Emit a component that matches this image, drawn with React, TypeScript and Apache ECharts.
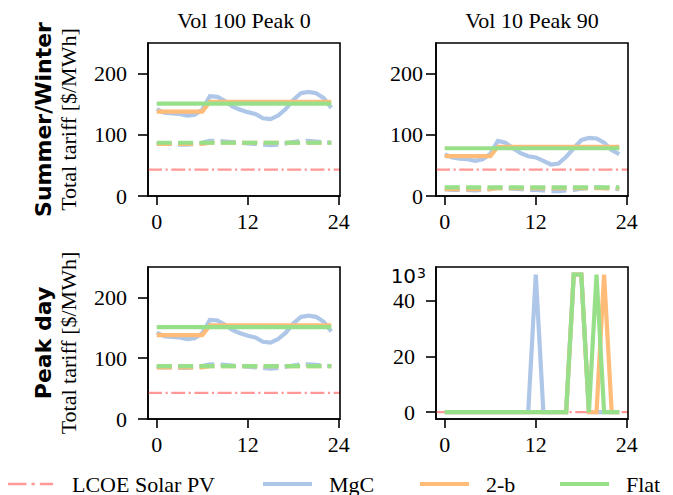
import React, { useEffect, useRef } from "react";
import * as echarts from "echarts";

// ---------- data ----------
const hours = [0, 1, 2, 3, 4, 5, 6, 7, 8, 9, 10, 11, 12, 13, 14, 15, 16, 17, 18, 19, 20, 21, 22, 23];
const xTicks = [0, 12, 24];
const yTicks = [0, 100, 200];
const colTitles = ["Vol 100 Peak 0", "Vol 10 Peak 90"];
const rowTitles = ["Summer/Winter", "Peak day"];
const seriesNames = ["LCOE Solar PV", "MgC", "2-b", "Flat"];

// Summer/Winter, Vol 100 Peak 0 (solid = summer, dashed = winter)
const swA_mgc = [142, 136, 135, 134, 131.5, 133, 141, 163, 162, 155, 146, 141, 137, 134, 127, 125.5, 131.5, 142, 157, 168, 170, 168, 160, 144];
const swA_2b = [138, 138, 138, 138, 138, 138, 138, 154, 154, 154, 154, 154, 154, 154, 154, 154, 154, 154, 154, 154, 154, 154, 154, 154];
const swA_flat = [151, 151, 151, 151, 151, 151, 151, 151, 151, 151, 151, 151, 151, 151, 151, 151, 151, 151, 151, 151, 151, 151, 151, 151];
const swA_mgcW = [85, 85, 85, 84, 84, 85, 87, 90, 90, 89, 88, 87, 86, 85, 84, 83, 84, 86, 88, 90, 90, 89, 88, 87];
const swA_2bW = [85, 85, 85, 85, 85, 85, 85, 87, 87, 87, 87, 87, 87, 87, 87, 87, 87, 87, 87, 87, 87, 87, 87, 87];
const swA_flatW = [87, 87, 87, 87, 87, 87, 87, 87, 87, 87, 87, 87, 87, 87, 87, 87, 87, 87, 87, 87, 87, 87, 87, 87];
const swA_lcoe = 43;

// Summer/Winter, Vol 10 Peak 90
const swB_mgc = [68, 63, 61, 60, 57.5, 60, 68.5, 90, 87, 78, 70, 65, 63, 57.5, 51.5, 53, 64, 78, 91.5, 95, 94, 87, 75, 68.5];
const swB_2b = [65, 65, 65, 65, 65, 65, 65, 80.5, 80.5, 80.5, 80.5, 80.5, 80.5, 80.5, 80.5, 80.5, 80.5, 80.5, 80.5, 80.5, 80.5, 80.5, 80.5, 80.5];
const swB_flat = [78, 78, 78, 78, 78, 78, 78, 78, 78, 78, 78, 78, 78, 78, 78, 78, 78, 78, 78, 78, 78, 78, 78, 78];
const swB_mgcW = [11, 10, 10, 10, 9, 10, 11, 13, 13, 12, 11, 10, 10, 9, 8, 8, 9, 10, 12, 13, 14, 13, 12, 11];
const swB_2bW = [11, 11, 11, 11, 11, 11, 11, 13, 13, 13, 13, 13, 13, 13, 13, 13, 13, 13, 13, 13, 13, 13, 13, 13];
const swB_flatW = [14, 14, 14, 14, 14, 14, 14, 14, 14, 14, 14, 14, 14, 14, 14, 14, 14, 14, 14, 14, 14, 14, 14, 14];
const swB_lcoe = 43;

// Peak day, Vol 100 Peak 0
const pdA_mgc = [142, 136, 135, 134, 131.5, 133, 141, 163, 162, 155, 146, 141, 137, 134, 127, 125.5, 131.5, 142, 157, 168, 170, 168, 160, 144];
const pdA_2b = [138, 138, 138, 138, 138, 138, 138, 154, 154, 154, 154, 154, 154, 154, 154, 154, 154, 154, 154, 154, 154, 154, 154, 154];
const pdA_flat = [151, 151, 151, 151, 151, 151, 151, 151, 151, 151, 151, 151, 151, 151, 151, 151, 151, 151, 151, 151, 151, 151, 151, 151];
const pdA_mgcW = [85, 85, 85, 84, 84, 85, 87, 90, 90, 89, 88, 87, 86, 85, 84, 83, 84, 86, 88, 90, 90, 89, 88, 87];
const pdA_2bW = [85, 85, 85, 85, 85, 85, 85, 87, 87, 87, 87, 87, 87, 87, 87, 87, 87, 87, 87, 87, 87, 87, 87, 87];
const pdA_flatW = [87, 87, 87, 87, 87, 87, 87, 87, 87, 87, 87, 87, 87, 87, 87, 87, 87, 87, 87, 87, 87, 87, 87, 87];
const pdA_lcoe = 43;

// Peak day, Vol 10 Peak 90 (symlog-like axis)
const pdB_mgc = [0, 0, 0, 0, 0, 0, 0, 0, 0, 0, 0, 0, 1000, 0, 0, 0, 0, 1000, 1000, 0, 0, 0, 0, 0];
const pdB_2b = [0, 0, 0, 0, 0, 0, 0, 0, 0, 0, 0, 0, 0, 0, 0, 0, 0, 1000, 1000, 0, 0, 1000, 0, 0];
const pdB_flat = [0, 0, 0, 0, 0, 0, 0, 0, 0, 0, 0, 0, 0, 0, 0, 0, 0, 1000, 1000, 0, 1000, 0, 0, 0];
const pdB_lcoe = 0;
const pdB_ticks = [0, 20, 40];
const pdB_logTick = 1000;

// ---------- styling ----------
const COLORS = { lcoe: "#ff9896", mgc: "#aec7e8", twob: "#ffbb78", flat: "#98df8a" };
const SERIF = "Liberation Serif";
const SANS = "DejaVu Sans";
const FS = 22;
const X_MIN = -1.15;
const X_MAX = 24.15;
const LW = 4.2;
const DASH = [15, 6.4];
const DASHDOT = [14, 3.5, 2.2, 3.5];
const Y_LABEL_MARGINS = [21, 13, 21, 9];

// symlog-like transform for the bottom-right panel
const LIN = 40;
const symT = (v: number) => (v <= LIN ? v : LIN + (9.5 * Math.log10(v / LIN)) / Math.log10(1000 / LIN));

const grids = [
  { left: 148, top: 43, width: 192, height: 153 },
  { left: 436, top: 43, width: 192, height: 153 },
  { left: 148, top: 267, width: 192, height: 152 },
  { left: 436, top: 267, width: 192, height: 152 },
];

const panels = [
  { mgc: swA_mgc, twob: swA_2b, flat: swA_flat, mgcW: swA_mgcW, twobW: swA_2bW, flatW: swA_flatW, lcoe: swA_lcoe },
  { mgc: swB_mgc, twob: swB_2b, flat: swB_flat, mgcW: swB_mgcW, twobW: swB_2bW, flatW: swB_flatW, lcoe: swB_lcoe },
  { mgc: pdA_mgc, twob: pdA_2b, flat: pdA_flat, mgcW: pdA_mgcW, twobW: pdA_2bW, flatW: pdA_flatW, lcoe: pdA_lcoe },
  { mgc: pdB_mgc, twob: pdB_2b, flat: pdB_flat, mgcW: null, twobW: null, flatW: null, lcoe: pdB_lcoe },
];

// legend icon paths drawn at their own pixel size
const ICON_SOLID = "path://M0,0H49V4.2H0Z";
const ICON_DASHDOT = "path://M0,0H18.5V2.4H0Z M23.5,0H26.8V2.4H23.5Z M31.8,0H45V2.4H31.8Z";

const numRich = { n: { fontFamily: SERIF, fontSize: FS, color: "#000" } };

function buildOption() {
  const axisLineStyle = { color: "#000", width: 1.6 };
  const xAxis = grids.map((_, i) => ({
    type: "value",
    gridIndex: i,
    min: X_MIN,
    max: X_MAX,
    axisLine: { show: true, onZero: false, lineStyle: axisLineStyle },
    axisTick: { show: true, length: 9, inside: false, lineStyle: { color: "#000", width: 1.6 }, customValues: xTicks },
    axisLabel: {
      show: true,
      margin: 14,
      color: "#000",
      fontFamily: SERIF,
      fontSize: FS,
      customValues: xTicks,
      formatter: (v: number) => "{n|" + Math.round(v) + "}",
      rich: numRich,
    },
    splitLine: { show: false },
  }));
  const logLabelPos = symT(pdB_logTick);
  const yAxis = grids.map((_, i) => {
    const isSym = i === 3;
    return {
      type: "value",
      gridIndex: i,
      min: isSym ? -2.5 : 0,
      max: isSym ? 52.2 : 250,
      axisLine: { show: true, onZero: false, lineStyle: axisLineStyle },
      axisTick: {
        show: true,
        length: 10,
        lineStyle: { color: "#000", width: 1.6 },
        customValues: isSym ? pdB_ticks.map(symT) : yTicks,
      },
      axisLabel: {
        show: true,
        margin: Y_LABEL_MARGINS[i],
        color: "#000",
        fontFamily: SERIF,
        fontSize: FS,
        customValues: isSym ? [...pdB_ticks.map(symT), logLabelPos] : yTicks,
        formatter: isSym
          ? (v: number) => (Math.abs(v - logLabelPos) < 0.01 ? "{a|10}{b|3}" : "{m|" + Math.round(v) + "}")
          : (v: number) => "{n|" + Math.round(v) + "}",
        rich: isSym
          ? {
              m: { fontFamily: SERIF, fontSize: FS, color: "#000", padding: [0, 12, 0, 0] },
              a: { fontFamily: SANS, fontSize: 20, color: "#000", lineHeight: 18, padding: [3, 0, 0, 0] },
              b: { fontFamily: SANS, fontSize: 14, color: "#000", lineHeight: 14, verticalAlign: "top", padding: [0, 1, 0, 1] },
            }
          : numRich,
      },
      splitLine: { show: false },
    };
  });

  const series: any[] = [];
  panels.forEach((p, i) => {
    const tf = i === 3 ? symT : (v: number) => v;
    const mk = (name: string, color: string, vals: number[] | null, dashed: boolean, z: number) => {
      if (!vals) return;
      series.push({
        name,
        type: "line",
        xAxisIndex: i,
        yAxisIndex: i,
        data: hours.map((h, k) => [h, tf(vals[k])]),
        symbol: "none",
        showSymbol: false,
        lineStyle: { color, width: LW, type: dashed ? DASH : "solid", cap: "butt", join: "miter" },
        itemStyle: { color },
        z,
        silent: true,
      });
    };
    // LCOE horizontal line spanning the axes
    series.push({
      name: "LCOE Solar PV",
      type: "line",
      xAxisIndex: i,
      yAxisIndex: i,
      data: [[X_MIN, tf(p.lcoe)], [X_MAX, tf(p.lcoe)]],
      symbol: "none",
      showSymbol: false,
      lineStyle: { color: COLORS.lcoe, width: 2.2, type: DASHDOT, cap: "butt" },
      itemStyle: { color: COLORS.lcoe },
      z: 1,
      silent: true,
    });
    mk("MgC", COLORS.mgc, p.mgc, false, 2);
    mk("MgC", COLORS.mgc, p.mgcW, true, 2);
    mk("2-b", COLORS.twob, p.twob, false, 3);
    mk("2-b", COLORS.twob, p.twobW, true, 3);
    mk("Flat", COLORS.flat, p.flat, false, 4);
    mk("Flat", COLORS.flat, p.flatW, true, 4);
  });

  const legendLefts = [8, 263, 420, 560];
  const legendColors = [COLORS.lcoe, COLORS.mgc, COLORS.twob, COLORS.flat];
  const legend = seriesNames.map((n, k) => ({
    data: [{ name: n, icon: k === 0 ? ICON_DASHDOT : ICON_SOLID, itemStyle: { color: legendColors[k] } }],
    left: legendLefts[k],
    top: 473,
    padding: 0,
    itemWidth: k === 0 ? 45 : 49,
    itemHeight: k === 0 ? 2.4 : 4.2,
    selectedMode: false,
    textStyle: { fontFamily: SERIF, fontSize: FS, color: "#000", padding: [0, 0, 0, k === 0 ? 14 : 12] },
  }));

  const graphic: any[] = [];
  colTitles.forEach((t, c) => {
    const g = grids[c];
    graphic.push({
      type: "text",
      x: g.left + g.width / 2,
      y: 20,
      style: { text: t, fontFamily: SERIF, fontSize: FS, fill: "#000", textAlign: "center", textVerticalAlign: "middle" },
    });
  });
  rowTitles.forEach((t, r) => {
    const g = grids[r * 2];
    const cy = g.top + g.height / 2;
    graphic.push({
      type: "text",
      x: 43,
      y: cy,
      rotation: Math.PI / 2,
      style: { text: t, fontFamily: SANS, fontWeight: "bold", fontSize: FS, fill: "#000", textAlign: "center", textVerticalAlign: "middle" },
    });
    graphic.push({
      type: "text",
      x: 68,
      y: cy,
      rotation: Math.PI / 2,
      style: { text: "Total tariff [$/MWh]", fontFamily: SERIF, fontSize: FS, fill: "#000", textAlign: "center", textVerticalAlign: "middle" },
    });
  });
  // full box (top & right spines)
  grids.forEach((g) => {
    graphic.push({
      type: "rect",
      shape: { x: g.left, y: g.top, width: g.width, height: g.height },
      style: { fill: "none", stroke: "#000", lineWidth: 1.6 },
      silent: true,
      z: 100,
    });
  });

  return {
    animation: false,
    backgroundColor: "#fff",
    textStyle: { fontFamily: SERIF },
    grid: grids.map((g) => ({ ...g, containLabel: false })),
    xAxis,
    yAxis,
    series,
    legend,
    graphic,
  };
}

export default function App() {
  const ref = useRef<HTMLDivElement>(null);
  useEffect(() => {
    if (!ref.current) return;
    const chart = echarts.init(ref.current, undefined, { renderer: "svg" });
    chart.setOption(buildOption() as any);
    return () => chart.dispose();
  }, []);
  return <div ref={ref} style={{ width: 673, height: 495, position: "absolute", left: 0, top: 0 }} />;
}
